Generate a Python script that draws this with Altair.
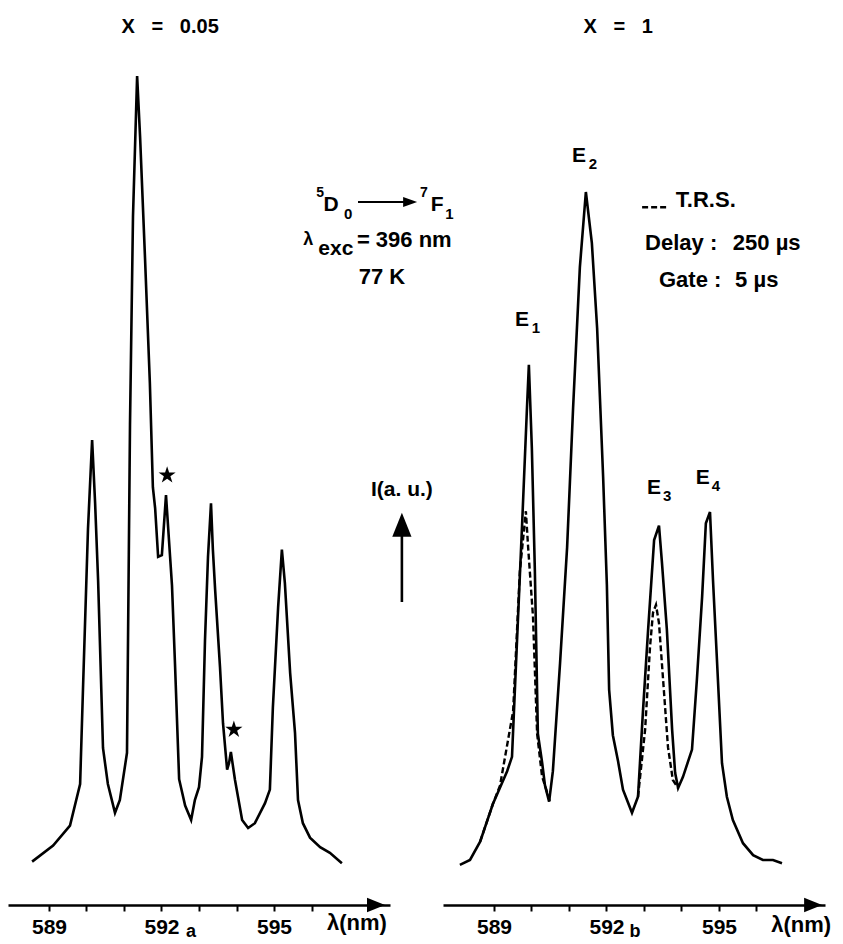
import altair as alt
import pandas as pd

# ---------------- data ----------------
# (a) x = 0.05 : emission intensity (a.u.) vs wavelength (nm)
left_nm = [588.55, 589.11, 589.56, 589.83, 589.91, 590.04, 590.15, 590.23, 590.31, 590.44,
           590.57, 590.76, 590.89, 591.08, 591.16, 591.24, 591.35, 591.43, 591.56, 591.69,
           591.77, 591.83, 591.91, 592.01, 592.12, 592.28, 592.36, 592.47, 592.63, 592.79,
           592.89, 593.00, 593.08, 593.16, 593.24, 593.32, 593.37, 593.43, 593.56, 593.64,
           593.75, 593.80, 593.85, 593.96, 594.15, 594.31, 594.49, 594.76, 594.89, 594.97,
           595.11, 595.21, 595.29, 595.43, 595.56, 595.64, 595.77, 595.96, 596.23, 596.49,
           596.81]
left_int = [2.3, 4.3, 6.8, 12.0, 24.4, 43.9, 55.0, 47.1, 37.4, 16.5,
            12.0, 8.4, 10.0, 15.9, 56.9, 83.0, 100.5, 92.8, 77.8, 62.1,
            49.1, 46.5, 40.4, 40.6, 48.1, 36.8, 27.0, 12.6, 9.3, 7.5,
            10.0, 11.6, 15.4, 30.0, 40.4, 47.1, 41.3, 36.3, 26.6, 19.6,
            13.8, 14.6, 16.0, 12.5, 7.5, 6.5, 7.1, 9.6, 11.3, 21.6,
            34.1, 41.3, 37.1, 25.9, 18.4, 10.0, 7.1, 5.3, 4.1, 3.4,
            2.1]

# (b) x = 1 : steady-state spectrum
right_nm = [588.09, 588.36, 588.63, 588.97, 589.35, 589.48, 589.56, 589.75, 589.88, 589.93,
            590.01, 590.09, 590.17, 590.28, 590.36, 590.47, 590.57, 590.76, 590.95, 591.11,
            591.29, 591.45, 591.61, 591.75, 591.91, 592.01, 592.07, 592.17, 592.31, 592.44,
            592.68, 592.84, 592.97, 593.11, 593.27, 593.40, 593.48, 593.61, 593.75, 593.83,
            593.91, 594.04, 594.28, 594.41, 594.55, 594.65, 594.76, 594.84, 594.95, 595.08,
            595.21, 595.37, 595.64, 595.91, 596.17, 596.44, 596.68]
right_int = [1.9, 2.5, 4.8, 9.5, 13.6, 15.4, 24.1, 44.5, 59.1, 64.4,
             53.9, 38.6, 18.3, 14.8, 11.8, 9.8, 13.6, 27.0, 41.6, 59.1,
             76.6, 86.0, 79.6, 69.0, 50.4, 36.9, 23.8, 18.1, 14.8, 11.3,
             8.4, 10.4, 20.9, 31.3, 42.5, 44.3, 39.6, 31.3, 18.8, 13.4,
             11.5, 12.9, 16.3, 25.0, 35.4, 44.6, 46.0, 37.5, 27.1, 14.6,
             10.4, 7.5, 4.6, 3.1, 2.5, 2.5, 2.1]

# (b) time-resolved spectrum (dashed), around E1 and E3
trs_e1_nm = [588.63, 588.97, 589.16, 589.51, 589.69, 589.85, 589.91, 590.04, 590.15, 590.28, 590.44, 590.49]
trs_e1_int = [4.8, 9.5, 11.8, 21.1, 38.6, 46.1, 41.6, 32.9, 18.3, 13.0, 10.6, 9.8]
trs_e3_nm = [592.84, 593.03, 593.16, 593.24, 593.32, 593.40, 593.51, 593.64, 593.77, 593.91]
trs_e3_int = [10.4, 18.8, 29.1, 33.4, 34.4, 32.1, 25.0, 16.6, 12.5, 11.5]

# starred (impurity) lines in (a)
star_nm = [592.15, 593.93]
star_int = [50.6, 18.8]

tick_values = [589, 590, 591, 592, 593, 594, 595, 596]
tick_labels = [589, 592, 595]

# ---------------- layout / style ----------------
FONT = "Liberation Sans"
NB = "\u00a0"
W, H = 382, 897
LEFT_X = [587.907, 598.093]
RIGHT_X = [587.64, 597.827]
Y_DOM = [-3.125, 109.0]

STAR = ("M0,-1L0.2245,-0.309L0.9511,-0.309L0.3633,0.118L0.5878,0.809L0,0.382"
        "L-0.5878,0.809L-0.3633,0.118L-0.9511,-0.309L-0.2245,-0.309Z")
TRI_RIGHT = "M-1,-0.8L1,0L-1,0.8Z"
TRI_RIGHT_SMALL = "M-1,-0.7L1,0L-1,0.7Z"
TRI_UP = "M0,-1L0.8,1L-0.8,1Z"


def xs(dom, field="x"):
    return alt.X(f"{field}:Q", scale=alt.Scale(domain=dom, nice=False, zero=False))


def ys(field="y"):
    return alt.Y(f"{field}:Q", scale=alt.Scale(domain=Y_DOM, nice=False, zero=False), axis=None)


label_expr = " || ".join(f"datum.value == {v}" for v in tick_labels)
label_expr = f"({label_expr}) ? datum.label : ''"


def x_axis(dom):
    return alt.X(
        "x:Q",
        scale=alt.Scale(domain=dom, nice=False, zero=False),
        axis=alt.Axis(values=tick_values, labelExpr=label_expr, format="d", title=None,
                      grid=False, domainColor="black", domainWidth=2.5, tickColor="black",
                      tickWidth=2, tickSize=6, labelFont=FONT, labelFontSize=21,
                      labelFontWeight="bold", labelColor="black", labelPadding=5,
                      labelOverlap=False, labelFlush=False),
    )


def text_layer(rows, dom, size, align="center"):
    df = pd.DataFrame(rows, columns=["x", "y", "t"])
    return alt.Chart(df).mark_text(
        font=FONT, fontSize=size, fontWeight="bold", align=align,
        baseline="middle", color="black"
    ).encode(x=xs(dom), y=ys(), text="t:N")


def symbol_layer(rows, dom, shape, size):
    df = pd.DataFrame(rows, columns=["x", "y"])
    return alt.Chart(df).mark_point(
        shape=shape, size=size, filled=True, color="black", opacity=1, strokeWidth=0
    ).encode(x=xs(dom), y=ys())


def rule_h(rows, dom, width, dash=None):
    df = pd.DataFrame(rows, columns=["x", "x2", "y"])
    kw = dict(color="black", strokeWidth=width)
    if dash:
        kw["strokeDash"] = dash
    return alt.Chart(df).mark_rule(**kw).encode(x=xs(dom), x2="x2:Q", y=ys())


def rule_v(rows, dom, width):
    df = pd.DataFrame(rows, columns=["x", "y", "y2"])
    return alt.Chart(df).mark_rule(color="black", strokeWidth=width).encode(
        x=xs(dom), y=ys(), y2="y2:Q")


# ---------------- panel (a) ----------------
df_left = pd.DataFrame({"x": left_nm, "y": left_int})
line_left = alt.Chart(df_left).mark_line(color="black", strokeWidth=2.6).encode(
    x=x_axis(LEFT_X), y=ys())

stars = symbol_layer(list(zip(star_nm, star_int)), LEFT_X, STAR, 324)

left_panel = alt.layer(
    line_left,
    stars,
    text_layer([(592.23, 106.6, f"X{NB*3}={NB*3}0.05")], LEFT_X, 20),
    # 5D0 -> 7F1
    text_layer([(596.52, 84.4, "D"), (599.35, 84.4, "F")], LEFT_X, 21),
    text_layer([(596.23, 85.9, "5"), (599.0, 85.9, "7")], LEFT_X, 14),
    text_layer([(596.98, 83.3, "0"), (599.68, 83.3, "1")], LEFT_X, 15),
    rule_h([(597.24, 598.5, 84.75)], LEFT_X, 2.2),
    symbol_layer([(598.63, 84.75)], LEFT_X, TRI_RIGHT_SMALL, 196),
    # lambda_exc = 396 nm
    text_layer([(595.91, 80.0, "λ")], LEFT_X, 18),
    text_layer([(596.65, 78.9, "exc")], LEFT_X, 21),
    text_layer([(597.21, 80.0, "= 396 nm")], LEFT_X, 22, align="left"),
    text_layer([(597.88, 75.4, "77 K")], LEFT_X, 22),
    # intensity arrow
    text_layer([(598.41, 48.75, "I(a. u.)")], LEFT_X, 21),
    rule_v([(598.41, 34.75, 43.5)], LEFT_X, 2.6),
    symbol_layer([(598.41, 44.4)], LEFT_X, TRI_UP, 576),
    # axis arrow and labels
    symbol_layer([(597.72, Y_DOM[0])], LEFT_X, TRI_RIGHT, 324),
    text_layer([(597.21, -5.4, "λ(nm)")], LEFT_X, 22),
    text_layer([(592.79, -6.5, "a")], LEFT_X, 18),
).properties(width=W, height=H)

# ---------------- panel (b) ----------------
df_right = pd.DataFrame({"x": right_nm, "y": right_int})
line_right = alt.Chart(df_right).mark_line(color="black", strokeWidth=2.6).encode(
    x=x_axis(RIGHT_X), y=ys())

df_trs = pd.DataFrame({
    "x": trs_e1_nm + trs_e3_nm,
    "y": trs_e1_int + trs_e3_int,
    "seg": ["E1"] * len(trs_e1_nm) + ["E3"] * len(trs_e3_nm),
})
line_trs = alt.Chart(df_trs).mark_line(color="black", strokeWidth=2.4, strokeDash=[6, 3]).encode(
    x=xs(RIGHT_X), y=ys(), detail="seg:N")

right_panel = alt.layer(
    line_right,
    line_trs,
    text_layer([(592.31, 106.6, f"X{NB*3}={NB*3}1")], RIGHT_X, 20),
    # T.R.S. legend
    rule_h([(592.95, 593.64, 84.1)], RIGHT_X, 2.6, dash=[6, 3]),
    text_layer([(593.85, 85.0, "T.R.S.")], RIGHT_X, 22, align="left"),
    text_layer([(593.03, 79.6, "Delay :"), (595.37, 79.6, "250 µs"),
                (593.40, 75.0, "Gate :"), (595.43, 75.0, "5 µs")], RIGHT_X, 22, align="left"),
    # peak labels
    text_layer([(589.75, 70.0, "E"), (591.27, 90.5, "E"),
                (593.27, 49.0, "E"), (594.57, 50.25, "E")], RIGHT_X, 21),
    text_layer([(590.12, 69.0, "1"), (591.64, 89.5, "2"),
                (593.62, 48.0, "3"), (594.92, 49.3, "4")], RIGHT_X, 15),
    # axis arrow and labels
    symbol_layer([(597.51, Y_DOM[0])], RIGHT_X, TRI_RIGHT, 324),
    text_layer([(597.19, -5.6, "λ(nm)")], RIGHT_X, 22),
    text_layer([(592.76, -6.5, "b")], RIGHT_X, 18),
).properties(width=W, height=H)

chart = alt.hconcat(left_panel, right_panel, spacing=53, bounds="flush").properties(
    padding=0
).configure_view(stroke=None)

chart.save("out.html", embed_options={"renderer": "svg", "actions": False})
